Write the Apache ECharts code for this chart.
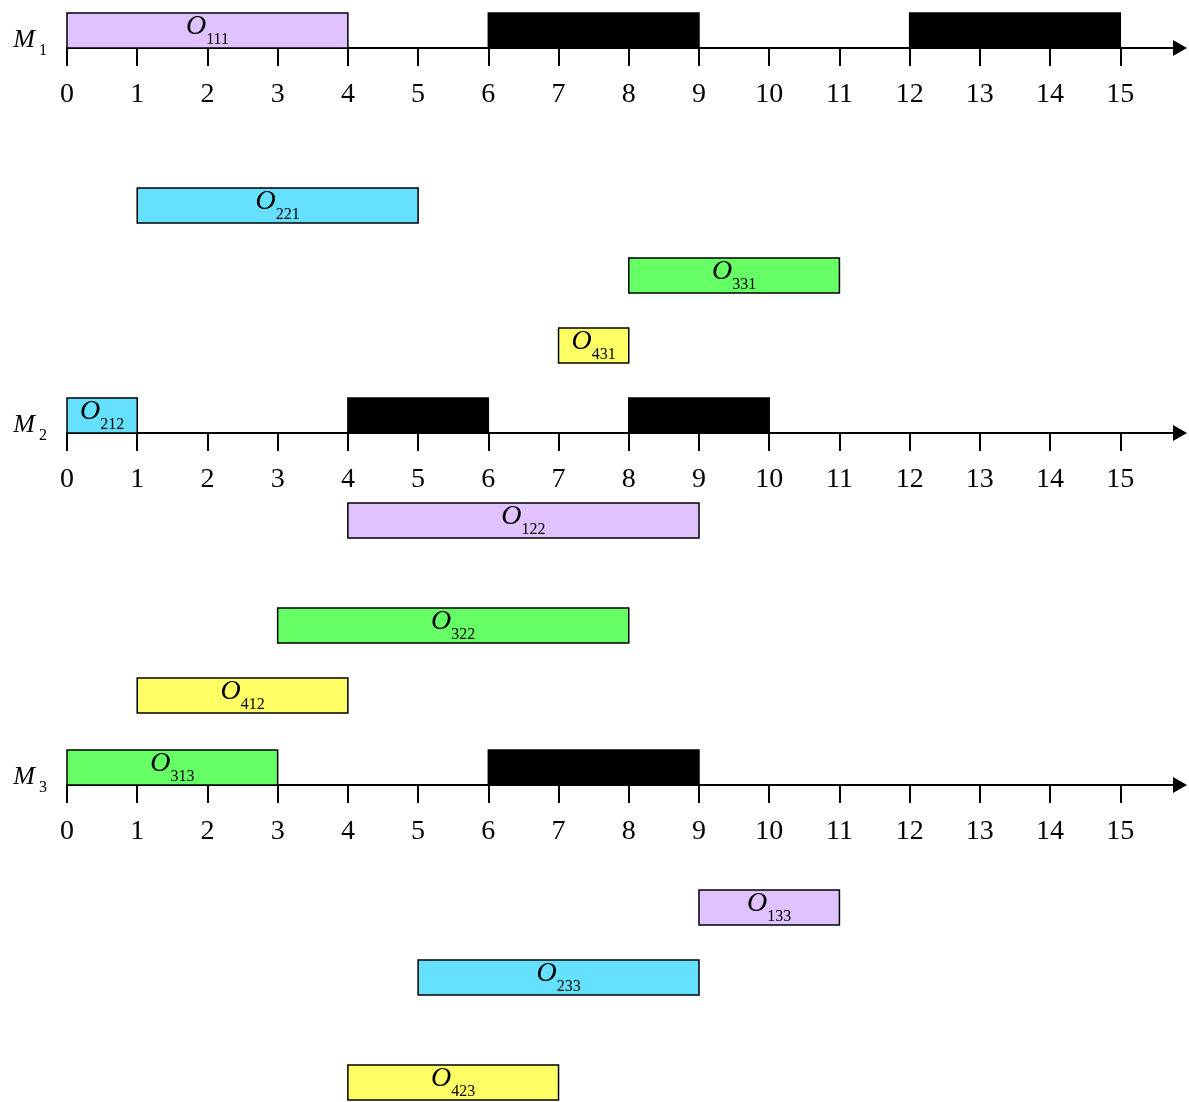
<!DOCTYPE html>
<html>
<head>
<meta charset="utf-8">
<script src="https://cdn.jsdelivr.net/npm/echarts@6/dist/echarts.min.js"></script>
<style>
  html, body { margin: 0; padding: 0; background: #fff; }
  #main { width: 1189px; height: 1102px; }
</style>
</head>
<body>
<div id="main"></div>
<script>
// machines and time axis
var machines = ['1', '2', '3'];
var tickValues = [0, 1, 2, 3, 4, 5, 6, 7, 8, 9, 10, 11, 12, 13, 14, 15];

// operations: '' = blocked (black) period on the machine
// row -1 = on the machine line, other rows = lanes below the axis
var opNames   = ['111', '', '', '221', '331', '431',  '212', '', '', '122', '322', '412',  '313', '', '133', '233', '423'];
var opMachine = [0, 0, 0, 0, 0, 0,  1, 1, 1, 1, 1, 1,  2, 2, 2, 2, 2];
var opStart   = [0, 6, 12, 1, 8, 7,  0, 4, 8, 4, 3, 1,  0, 6, 9, 5, 4];
var opEnd     = [4, 9, 15, 5, 11, 8,  1, 6, 10, 9, 8, 4,  3, 9, 11, 9, 7];
var opRow     = [-1, -1, -1, 4, 6, 8,  -1, -1, -1, 2, 5, 7,  -1, -1, 3, 5, 8];

var jobColors = ['#000000', '#dfc2ff', '#66e0ff', '#66ff66', '#ffff66'];
var serif = 'Liberation Serif';
var axisLineY = [48, 433, 785];
var rowH = 35;

function renderItem(params, api) {
  var idx = api.value(3);
  var p0 = api.coord([api.value(0), api.value(2)]);
  var p1 = api.coord([api.value(1), api.value(2) + 1]);
  var name = opNames[idx];
  var job = name ? +name.charAt(0) : 0;
  var el = {
    type: 'rect',
    shape: { x: p0[0], y: p0[1], width: p1[0] - p0[0], height: p1[1] - p0[1] },
    style: { fill: jobColors[job], stroke: '#000', lineWidth: 1.5 }
  };
  if (name) {
    el.textContent = {
      style: {
        text: '{o|O}{s|' + name + '}',
        rich: {
          o: { fontFamily: serif, fontStyle: 'italic', fontSize: 28, verticalAlign: 'bottom', padding: [0, 0, 7, 0], fill: '#000' },
          s: { fontFamily: serif, fontSize: 16, verticalAlign: 'bottom', fill: '#000' }
        }
      }
    };
    el.textConfig = { position: 'inside' };
  }
  return el;
}

var grids = [], xAxes = [], yAxes = [], series = [];
machines.forEach(function (m, i) {
  grids.push({ left: 67, width: 1113, top: axisLineY[i] - rowH, height: rowH });
  xAxes.push({
    type: 'value', gridIndex: i, min: 0, max: 15.85, interval: 1,
    name: '{m|M}{s|' + m + '}', nameLocation: 'start', nameGap: 20,
    nameTextStyle: {
      padding: [0, 0, 10, 0],
      rich: {
        m: { fontFamily: serif, fontStyle: 'italic', fontSize: 26, verticalAlign: 'bottom', padding: [0, 4, 6, 0], color: '#000' },
        s: { fontFamily: serif, fontSize: 16, verticalAlign: 'bottom', color: '#000' }
      }
    },
    axisLine: { show: true, lineStyle: { color: '#000', width: 2 }, symbol: ['none', 'triangle'], symbolSize: [16, 14] },
    axisTick: { show: true, length: 18, lineStyle: { color: '#000', width: 2 }, customValues: tickValues },
    axisLabel: { margin: 33, fontFamily: serif, fontSize: 28, color: '#000', customValues: tickValues },
    splitLine: { show: false }
  });
  yAxes.push({ type: 'value', gridIndex: i, min: -1, max: 0, inverse: true, show: false });
  var data = [];
  opNames.forEach(function (n, k) {
    if (opMachine[k] === i) data.push([opStart[k], opEnd[k], opRow[k], k]);
  });
  series.push({
    type: 'custom', xAxisIndex: i, yAxisIndex: i, clip: false,
    renderItem: renderItem, data: data, z: 3, silent: true
  });
});

var chart = echarts.init(document.getElementById('main'));
chart.setOption({
  backgroundColor: '#fff',
  animation: false,
  grid: grids,
  xAxis: xAxes,
  yAxis: yAxes,
  series: series
});
</script>
</body>
</html>
